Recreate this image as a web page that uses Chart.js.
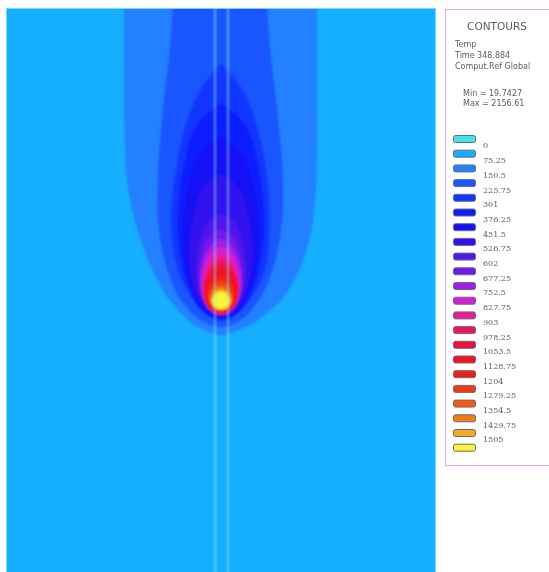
<!DOCTYPE html>
<html>
<head>
<meta charset="utf-8">
<script src="https://cdn.jsdelivr.net/npm/chart.js@4/dist/chart.umd.min.js"></script>
<style>
  html, body { margin: 0; padding: 0; background: #ffffff; }
  #wrap { width: 549px; height: 572px; position: relative; }
</style>
</head>
<body>
<div id="wrap"><canvas id="plot"></canvas></div>
<script>
// Temperature contour levels shown in the legend
const levelLabels = ['0', '75.25', '150.5', '225.75', '301', '376.25', '451.5', '526.75', '602',
  '677.25', '752.5', '827.75', '903', '978.25', '1053.5', '1128.75', '1204', '1279.25',
  '1354.5', '1429.75', '1505'];

// One colour per band (below the first level, between levels, above the last)
const bandColors = ['#3fe6ee', '#16aeff', '#2380ff', '#1a56ff', '#1236ff', '#0c1eff', '#1610f4',
  '#3212ee', '#5016ec', '#7018ea', '#a01ee6', '#d41ed2', '#ee1a92', '#ee145c', '#ee1038',
  '#f01420', '#f22014', '#f43a12', '#f45a14', '#f47c18', '#f6aa20', '#fcf434'];

const legendTitle = 'CONTOURS';
const infoLines = ['Temp', 'Time 348.884', 'Comput.Ref Global'];
const rangeLines = ['Min = 19.7427', 'Max = 2156.61'];

// Isotherms: [x, y] with x = transverse position from the torch axis, y = depth from the top edge
const iso075 = [[-97,-6],[-97,70],[-96,140],[-92,185],[-81,229],[-61,277],[-36,309],[-17,322],[0,327],
  [18,322],[38,311],[67,283],[86,240],[94,193],[96,138],[96,70],[96,-6]];
const iso150 = [[-48,-6],[-51,40],[-58,101],[-63,174],[-61,229],[-48,277],[-29,305],[-14,315],[0,319],
  [14,315],[28,305],[46,277],[59,229],[62,174],[56,101],[49,40],[46,-6]];
const iso226 = [[0,55],[-21,83],[-36,119],[-44,156],[-49,193],[-49,229],[-42,265],[-26,294],[-12,308],[0,313],
  [13,308],[27,294],[43,265],[48,229],[48,193],[44,156],[36,119],[22,83],[0,55]];
const iso301 = [[0,95],[-23.7,116.6],[-36.6,155.5],[-43,207.3],[-40,250.5],[-30.1,285],[-16.3,304.5],[0,311],
  [16.3,304.5],[30.1,285],[40,250.5],[43,207.3],[36.6,155.5],[23.7,116.6],[0,95]];
const iso376 = [[0,128],[-20.9,146.2],[-32.3,178.8],[-38,222.4],[-35.3,258.7],[-26.6,287.7],[-14.4,304],[0,309.5],
  [14.4,304],[26.6,287.7],[35.3,258.7],[38,222.4],[32.3,178.8],[20.9,146.2],[0,128]];
const iso451 = [[0,165],[-17.6,179.4],[-27.2,205.2],[-32,239.6],[-29.8,268.3],[-22.4,291.3],[-12.2,304.2],[0,308.5],
  [12.2,304.2],[22.4,291.3],[29.8,268.3],[32,239.6],[27.2,205.2],[17.6,179.4],[0,165]];
const iso527 = [[0,205],[-13.8,215.3],[-21.3,233.7],[-25,258.3],[-23.3,278.8],[-17.5,295.2],[-9.5,304.4],[0,307.5],
  [9.5,304.4],[17.5,295.2],[23.3,278.8],[25,258.3],[21.3,233.7],[13.8,215.3],[0,205]];
const iso602 = [[0,220],[-12.4,228.7],[-19.1,244.4],[-22.5,265.2],[-20.9,282.6],[-15.8,296.6],[-8.6,304.4],[0,307],
  [8.6,304.4],[15.8,296.6],[20.9,282.6],[22.5,265.2],[19.1,244.4],[12.4,228.7],[0,220]];
const iso677 = [[0,230],[-11.6,237.7],[-17.9,251.4],[-21,269.8],[-19.5,285.1],[-14.7,297.3],[-8,304.2],[0,306.5],
  [8,304.2],[14.7,297.3],[19.5,285.1],[21,269.8],[17.9,251.4],[11.6,237.7],[0,230]];
const iso752 = [[0,238],[-10.7,244.8],[-16.6,257],[-19.5,273.4],[-18.1,287],[-13.7,297.8],[-7.4,304],[0,306],
  [7.4,304],[13.7,297.8],[18.1,287],[19.5,273.4],[16.6,257],[10.7,244.8],[0,238]];
const iso828 = [[0,246],[-9.9,252],[-15.3,262.7],[-18,276.9],[-16.7,288.8],[-12.6,298.4],[-6.8,303.2],[0,305.5],
  [6.8,303.2],[12.6,298.4],[16.7,288.8],[18,276.9],[15.3,262.7],[9.9,252],[0,246]];
const iso903 = [[0,252],[-9.4,257.3],[-14.5,266.8],[-17,279.6],[-15.8,290.2],[-11.9,298.6],[-6.5,303.4],[0,305],
  [6.5,303.4],[11.9,298.6],[15.8,290.2],[17,279.6],[14.5,266.8],[9.4,257.3],[0,252]];
const iso978 = [[0,257],[-8.8,261.8],[-13.6,270.3],[-16,281.7],[-14.9,291.2],[-11.2,298.8],[-6.1,303.1],[0,304.5],
  [6.1,303.1],[11.2,298.8],[14.9,291.2],[16,281.7],[13.6,270.3],[8.8,261.8],[0,257]];
const iso1054 = [[0,262],[-8.3,266.2],[-12.8,273.8],[-15,283.8],[-14,292.2],[-10.5,299],[-5.7,302.7],[0,304],
  [5.7,302.7],[10.5,299],[14,292.2],[15,283.8],[12.8,273.8],[8.3,266.2],[0,262]];
const iso1129 = [[0,267],[-7.7,270.7],[-11.9,277.2],[-14,286],[-13,293.3],[-9.8,299.1],[-5.3,302.4],[0,303.5],
  [5.3,302.4],[9.8,299.1],[13,293.3],[14,286],[11.9,277.2],[7.7,270.7],[0,267]];
const iso1204 = [[0,272],[-6.9,275.1],[-10.6,280.7],[-12.5,288.1],[-11.6,294.3],[-8.8,299.3],[-4.8,302.1],[0,303],
  [4.8,302.1],[8.8,299.3],[11.6,294.3],[12.5,288.1],[10.6,280.7],[6.9,275.1],[0,272]];
const iso1279 = [[0,276],[-6.3,278.7],[-9.8,283.4],[-11.5,289.8],[-10.7,295.1],[-8.1,299.3],[-4.4,301.7],[0,302.5],
  [4.4,301.7],[8.1,299.3],[10.7,295.1],[11.5,289.8],[9.8,283.4],[6.3,278.7],[0,276]];
const iso1355 = [[0,279],[-5.8,281.3],[-8.9,285.4],[-10.5,291],[-9.8,295.6],[-7.4,299.2],[-4,301.3],[0,302],
  [4,301.3],[7.4,299.2],[9.8,295.6],[10.5,291],[8.9,285.4],[5.8,281.3],[0,279]];
const iso1430 = [[0,281],[-5.2,283.1],[-8.1,286.7],[-9.5,291.7],[-8.8,295.8],[-6.7,299],[-3.6,300.9],[0,301.5],
  [3.6,300.9],[6.7,299],[8.8,295.8],[9.5,291.7],[8.1,286.7],[5.2,283.1],[0,281]];
const iso1505 = [[0,283],[-4.7,284.8],[-7.2,288],[-8.5,292.4],[-7.9,296],[-6,298.8],[-3.2,300.5],[0,301],
  [3.2,300.5],[6,298.8],[7.9,296],[8.5,292.4],[7.2,288],[4.7,284.8],[0,283]];

// Outermost first; isotherm k encloses band k + 1
const isotherms = [iso075, iso150, iso226, iso301, iso376, iso451, iso527, iso602, iso677, iso752,
  iso828, iso903, iso978, iso1054, iso1129, iso1204, iso1279, iso1355, iso1430, iso1505];

// Edges of the deposit strip along the torch axis
const stripEdges = [-6, 7];
const plateX = [-215, 215];
const plateDepth = [0, 564];

const datasets = [];
isotherms.forEach((pts, k) => {
  datasets.push({
    label: levelLabels[k + 1],
    data: pts.map(p => ({ x: p[0], y: p[1] })),
    showLine: true,
    fill: 'shape',
    backgroundColor: bandColors[k + 2],
    borderWidth: 0,
    pointRadius: 0,
    tension: 0.4,
    order: 100 - k
  });
});
stripEdges.forEach(x => {
  datasets.push({
    label: 'strip',
    data: [{ x: x, y: plateDepth[0] - 6 }, { x: x, y: plateDepth[1] + 6 }],
    showLine: true,
    fill: false,
    borderColor: 'rgba(140,236,255,0.55)',
    borderWidth: 2,
    pointRadius: 0,
    order: 0
  });
});

const plateBackground = {
  id: 'plateBackground',
  beforeDatasetsDraw(chart) {
    const { ctx, chartArea: a } = chart;
    ctx.save();
    ctx.fillStyle = bandColors[1];
    ctx.fillRect(a.left, a.top, a.right - a.left, a.bottom - a.top);
    ctx.restore();
    ctx.filter = 'blur(1.2px)';
  },
  afterDatasetsDraw(chart) {
    const { ctx, chartArea: a } = chart;
    ctx.filter = 'none';
    ctx.save();
    ctx.strokeStyle = 'rgba(120,230,255,0.9)';
    ctx.lineWidth = 1;
    ctx.beginPath();
    ctx.moveTo(a.left + 0.5, a.bottom);
    ctx.lineTo(a.left + 0.5, a.top + 0.5);
    ctx.lineTo(a.right - 0.5, a.top + 0.5);
    ctx.lineTo(a.right - 0.5, a.bottom);
    ctx.stroke();
    ctx.restore();
  }
};

const contourLegend = {
  id: 'contourLegend',
  afterDraw(chart) {
    const ctx = chart.ctx;
    ctx.save();
    ctx.fillStyle = '#ffffff';
    ctx.fillRect(445.5, 9.5, 110, 456);
    ctx.strokeStyle = '#dba6dd';
    ctx.lineWidth = 1;
    ctx.strokeRect(445.5, 9.5, 110, 456);

    ctx.fillStyle = '#5c5c5c';
    ctx.textBaseline = 'middle';
    ctx.textAlign = 'center';
    ctx.font = '10.5px "DejaVu Sans"';
    ctx.fillText(legendTitle, 497, 27);

    ctx.textAlign = 'left';
    ctx.font = '8px "DejaVu Sans"';
    infoLines.forEach((t, i) => ctx.fillText(t, 455, 45 + i * 11));
    rangeLines.forEach((t, i) => ctx.fillText(t, 463, 94 + i * 9.5));

    const step = 14.7;
    bandColors.forEach((c, i) => {
      const y = 139 + i * step;
      ctx.beginPath();
      ctx.roundRect(453.5, y - 3.5, 22, 7, 2);
      ctx.fillStyle = c;
      ctx.fill();
      ctx.strokeStyle = '#6a6a7a';
      ctx.lineWidth = 1;
      ctx.stroke();
    });
    ctx.fillStyle = '#5c5c5c';
    ctx.font = '8px "DejaVu Serif"';
    levelLabels.forEach((t, i) => ctx.fillText(t, 483, 139 + i * step + 7.4));
    ctx.restore();
  }
};

new Chart(document.getElementById('plot'), {
  type: 'scatter',
  data: { datasets },
  options: {
    responsive: true,
    maintainAspectRatio: false,
    animation: false,
    layout: { padding: { left: 6, top: 8, right: 113, bottom: 0 } },
    scales: {
      x: { type: 'linear', min: plateX[0], max: plateX[1], display: false },
      y: { type: 'linear', min: plateDepth[0], max: plateDepth[1], reverse: true, display: false }
    },
    plugins: {
      legend: { display: false },
      tooltip: { enabled: false }
    },
    elements: { line: { capBezierPoints: false } }
  },
  plugins: [plateBackground, contourLegend]
});
</script>
</body>
</html>
